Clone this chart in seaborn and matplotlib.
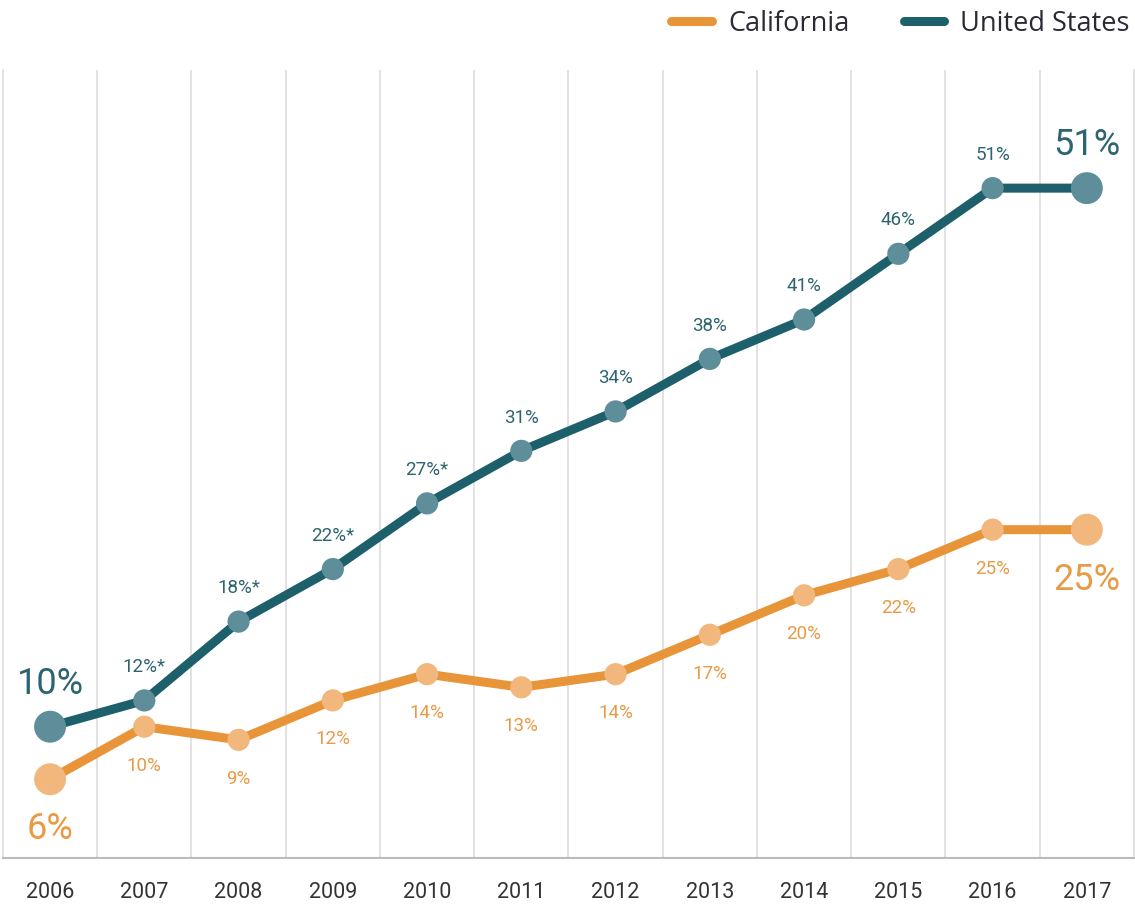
import matplotlib
matplotlib.use("Agg")
import matplotlib.pyplot as plt
import seaborn as sns
import pandas as pd
from matplotlib.lines import Line2D

years = [2006, 2007, 2008, 2009, 2010, 2011, 2012, 2013, 2014, 2015, 2016, 2017]
california = [6, 10, 9, 12, 14, 13, 14, 17, 20, 22, 25, 25]
united_states = [10, 12, 18, 22, 27, 31, 34, 38, 41, 46, 51, 51]
ca_labels = ["6%", "10%", "9%", "12%", "14%", "13%", "14%", "17%", "20%", "22%", "25%", "25%"]
us_labels = ["10%", "12%*", "18%*", "22%*", "27%*", "31%", "34%", "38%", "41%", "46%", "51%", "51%"]
series_names = ["California", "United States"]

sns.set_theme(style="white")
NARROW = ["Roboto", "DejaVu Sans"]
plt.rcParams["font.family"] = ["Open Sans", "DejaVu Sans"]

CA_LINE = "#e8953a"
CA_MARK = "#f1b77c"
CA_TEXT = "#e89a45"
US_LINE = "#1d5f6a"
US_MARK = "#5d8e9a"
US_TEXT = "#2c6470"

fig = plt.figure(figsize=(11.35, 9.08), dpi=100)
ax = fig.add_axes([0.0026, 0.055, 0.9965, 0.868])

idx = list(range(len(years)))
df = pd.DataFrame({
    "x": idx * 2,
    "value": california + united_states,
    "series": [series_names[0]] * len(years) + [series_names[1]] * len(years),
})
palette = {series_names[0]: CA_LINE, series_names[1]: US_LINE}
sns.lineplot(data=df, x="x", y="value", hue="series", palette=palette,
             linewidth=6.5, legend=False, ax=ax, zorder=2)

for vals, mc in [(california, CA_MARK), (united_states, US_MARK)]:
    sns.scatterplot(x=idx[1:-1], y=vals[1:-1], s=16**2, color=mc,
                    edgecolor="none", ax=ax, zorder=3, legend=False)
    sns.scatterplot(x=[idx[0], idx[-1]], y=[vals[0], vals[-1]], s=23**2,
                    color=mc, edgecolor="none", ax=ax, zorder=3, legend=False)

# labels
for i, (v, lab) in enumerate(zip(united_states, us_labels)):
    big = i in (0, len(years) - 1)
    ax.annotate(lab, (i, v), xytext=(0, 31 if big else 24), textcoords="offset points",
                ha="center", va="center", fontsize=26 if big else 13.5,
                color=US_TEXT, family=NARROW)
for i, (v, lab) in enumerate(zip(california, ca_labels)):
    big = i in (0, len(years) - 1)
    ax.annotate(lab, (i, v), xytext=(0, -36 if big else -28), textcoords="offset points",
                ha="center", va="center", fontsize=26 if big else 13.5,
                color=CA_TEXT, family=NARROW)

ax.set_xlim(-0.5, len(years) - 0.5)
ax.set_ylim(0, 60)
ax.set_xticks(idx)
ax.set_xticklabels([str(y) for y in years], family=NARROW, fontsize=15.5, color="#333333")
ax.set_xticks([i + 0.5 for i in idx[:-1]], minor=True)
ax.set_yticks([])
ax.tick_params(axis="x", which="major", length=0, pad=17)
ax.tick_params(axis="x", which="minor", length=0)
ax.grid(False)
ax.xaxis.grid(True, which="minor", color="#dddddd", linewidth=1.2)
ax.set_xlabel("")
ax.set_ylabel("")
ax.spines["top"].set_visible(False)
for side in ["left", "right"]:
    ax.spines[side].set_color("#dddddd")
    ax.spines[side].set_linewidth(1.2)
ax.spines["bottom"].set_color("#bbbbbb")
ax.spines["bottom"].set_linewidth(1.5)

handles = [Line2D([0], [0], color=CA_LINE, lw=6.5, solid_capstyle="round"),
           Line2D([0], [0], color=US_LINE, lw=6.5, solid_capstyle="round")]
fig.legend(handles, series_names, loc="upper right", bbox_to_anchor=(1.017, 1.016),
           ncol=2, frameon=False, fontsize=19.5, handlelength=1.5, handletextpad=0.6,
           columnspacing=2.0, labelcolor="#2a2a35")

fig.savefig("out.png", dpi=100)
